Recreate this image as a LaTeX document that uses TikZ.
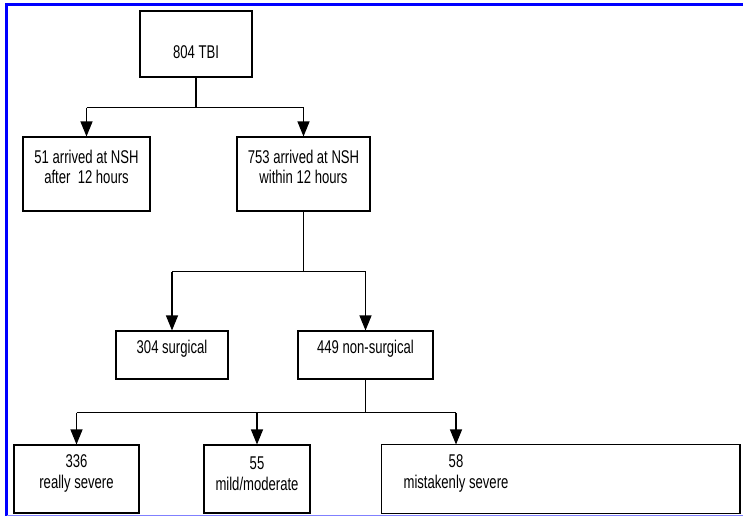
\documentclass[tikz,border=0pt]{standalone}
\usepackage{fontspec}
\setmainfont{Liberation Sans}[FakeStretch=0.71]
\usetikzlibrary{arrows.meta}

\begin{document}
\begin{tikzpicture}[x=0.02cm,y=-0.02cm,line width=0.6pt,
    font=\fontsize{10.5}{11.8}\selectfont,
    box/.style={draw,inner sep=0pt},
    arr/.style={-{Triangle[width=0.24cm,length=0.3cm]}}]
  \useasboundingbox (0,0) rectangle (743,516);
  % frame
  \draw[blue,line width=0.05cm] (6.7,516) -- (6.7,4.5) -- (760,4.5);
  \draw[blue!50,line width=0.02cm] (6.7,515.5) -- (760,515.5);
  % boxes
  \node[box,minimum width=2.24cm,minimum height=1.32cm,
    label={[yshift=-0.16cm]center:804 TBI}] (tbi) at (196,44) {};
  \node[box,minimum width=2.54cm,minimum height=1.48cm,
    label={[align=center,yshift=0.14cm]center:{51 arrived at NSH\\after\ \ 12 hours}}] (late) at (86.5,174) {};
  \node[box,minimum width=2.66cm,minimum height=1.48cm,
    label={[align=center,yshift=0.14cm]center:{753 arrived at NSH\\within 12 hours}}] (early) at (303.5,174) {};
  \node[box,minimum width=2.24cm,minimum height=0.96cm,
    label={[yshift=0.12cm]center:304 surgical}] (surg) at (172,355) {};
  \node[box,minimum width=2.7cm,minimum height=0.96cm,
    label={[yshift=0.12cm]center:449 non-surgical}] (nonsurg) at (365.5,355) {};
  \node[box,minimum width=2.5cm,minimum height=1.36cm,
    label={[align=center,yshift=0.11cm]center:{336\\really severe}}] (severe) at (76.5,479) {};
  \node[box,minimum width=2.12cm,minimum height=1.36cm,
    label={[align=center,yshift=0.11cm]center:{55\\mild/moderate}}] (mild) at (257,479) {};
  \node[inner sep=0pt,minimum width=2.96cm,minimum height=1.36cm,
    label={[align=center,yshift=0.11cm]center:{58\\mistakenly severe}}] (mistaken) at (456,479) {};
  \coordinate (redge) at (740,0);
  \draw (mistaken.north west) rectangle (mistaken.south -| redge);
  % connectors
  \draw (tbi.south) -- ++(0,30) coordinate (j1);
  \draw (j1 -| late) -- (j1 -| early);
  \draw[arr] (j1 -| late) -- (late);
  \draw[arr] (j1 -| early) -- (early);
  \draw (early.south) -- ++(0,60) coordinate (j2);
  \draw (j2 -| surg) -- (j2 -| nonsurg);
  \draw[arr] (j2 -| surg) -- (surg);
  \draw[arr] (j2 -| nonsurg) -- (nonsurg);
  \draw (nonsurg.south) -- ++(0,33) coordinate (j3);
  \draw (j3 -| severe) -- (j3 -| mistaken);
  \draw[arr] (j3 -| severe) -- (severe);
  \draw[arr] (j3 -| mild) -- (mild);
  \draw[arr] (j3 -| mistaken) -- (mistaken);
\end{tikzpicture}
\end{document}
